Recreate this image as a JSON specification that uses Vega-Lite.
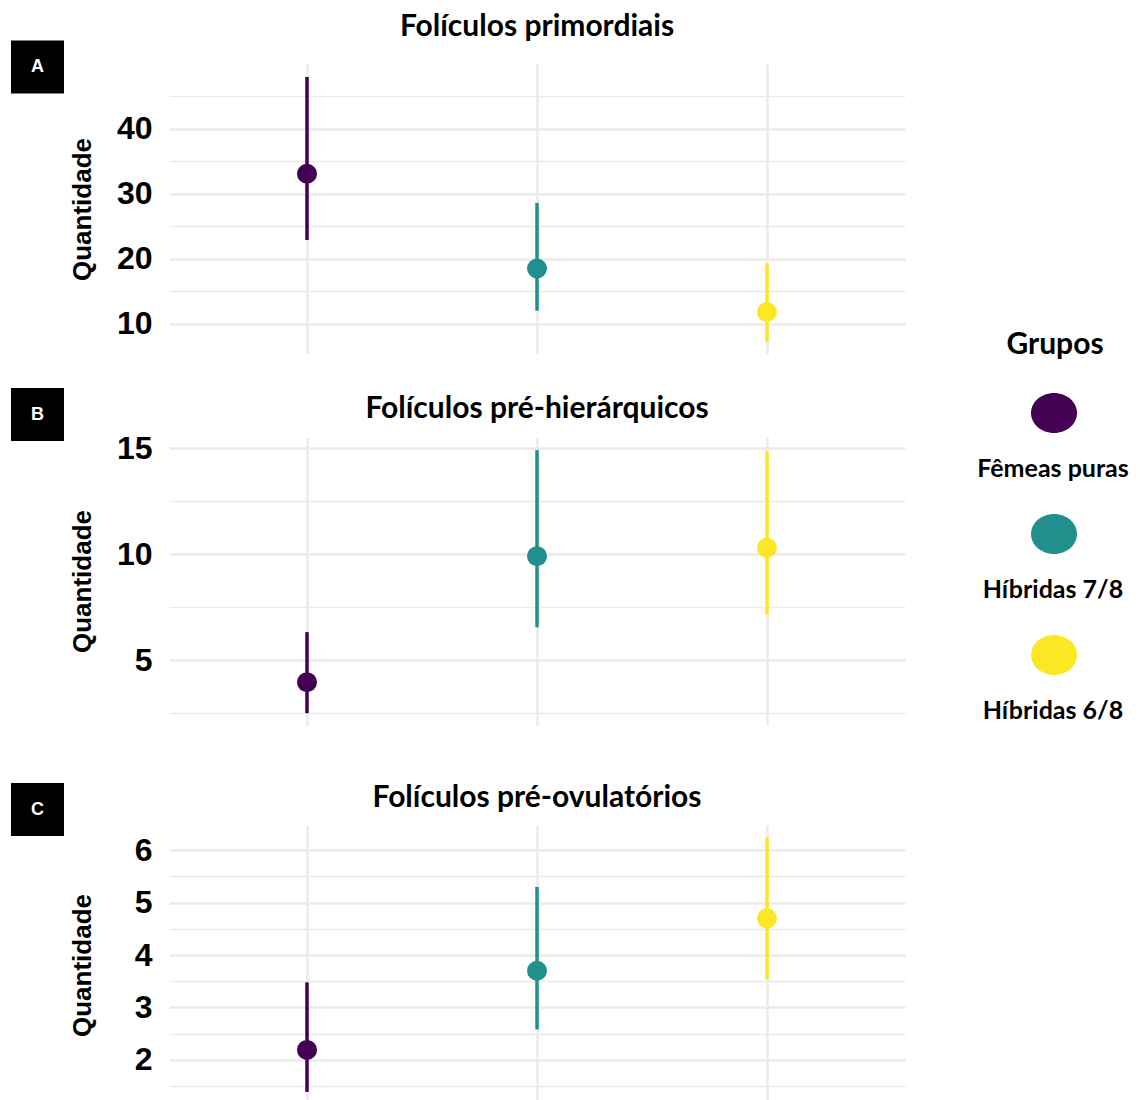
{
  "$schema": "https://vega.github.io/schema/vega-lite/v6.json",
  "padding": {"left": 10, "top": 12, "right": 0, "bottom": 0},
  "background": "white",
  "datasets": {
    "foliculos": [
      {"painel": "A", "grupo": "Fêmeas puras", "media": 33.1, "inf": 22.9, "sup": 48.0},
      {"painel": "A", "grupo": "Híbridas 7/8", "media": 18.5, "inf": 12.0, "sup": 28.6},
      {"painel": "A", "grupo": "Híbridas 6/8", "media": 11.8, "inf": 7.2, "sup": 19.4},
      {"painel": "B", "grupo": "Fêmeas puras", "media": 3.96, "inf": 2.5, "sup": 6.32},
      {"painel": "B", "grupo": "Híbridas 7/8", "media": 9.9, "inf": 6.55, "sup": 14.9},
      {"painel": "B", "grupo": "Híbridas 6/8", "media": 10.3, "inf": 7.15, "sup": 14.85},
      {"painel": "C", "grupo": "Fêmeas puras", "media": 2.19, "inf": 1.39, "sup": 3.48},
      {"painel": "C", "grupo": "Híbridas 7/8", "media": 3.7, "inf": 2.58, "sup": 5.3},
      {"painel": "C", "grupo": "Híbridas 6/8", "media": 4.7, "inf": 3.53, "sup": 6.25}
    ]
  },
  "hconcat": [
    {
      "vconcat": [
        {
          "width": 55, "height": 6,
          "data": {"values": [{"painel": "A"}]},
          "layer": [
            {"mark": {"type": "square", "size": 2809, "color": "black", "opacity": 1}, "encoding": {}},
            {"mark": {"type": "text", "color": "white", "font": "Liberation Sans", "fontWeight": "bold", "fontSize": 18}, "encoding": {"text": {"field": "painel"}}}
          ]
        },
        {
          "vconcat": [
            {
              "width": 55, "height": 53,
              "data": {"values": [{"painel": "B"}]},
              "layer": [
                {"mark": {"type": "square", "size": 2809, "color": "black", "opacity": 1}, "encoding": {}},
                {"mark": {"type": "text", "color": "white", "font": "Liberation Sans", "fontWeight": "bold", "fontSize": 18}, "encoding": {"text": {"field": "painel"}}}
              ]
            },
            {
              "width": 55, "height": 53,
              "data": {"values": [{"painel": "C"}]},
              "layer": [
                {"mark": {"type": "square", "size": 2809, "color": "black", "opacity": 1}, "encoding": {}},
                {"mark": {"type": "text", "color": "white", "font": "Liberation Sans", "fontWeight": "bold", "fontSize": 18}, "encoding": {"text": {"field": "painel"}}}
              ]
            }
          ],
          "spacing": 342
        }
      ],
      "spacing": 294
    },
    {
      "vconcat": [
        {
          "vconcat": [
            {
              "width": 736, "height": 290,
              "title": {"text": "Folículos primordiais", "offset": 22},
              "data": {"name": "foliculos"},
              "transform": [{"filter": "datum.painel === 'A'"}],
              "encoding": {
                "x": {"field": "grupo", "type": "nominal", "sort": ["Fêmeas puras", "Híbridas 7/8", "Híbridas 6/8"], "scale": {"type": "point", "padding": 0.6}, "axis": {"grid": true, "labels": false, "ticks": false, "domain": false, "title": null, "gridColor": "#ebebeb", "gridWidth": 2.6, "minExtent": 0, "maxExtent": 0}},
                "color": {
                  "field": "grupo", "type": "nominal",
                  "scale": {"domain": ["Fêmeas puras", "Híbridas 7/8", "Híbridas 6/8"], "range": ["#440154", "#21908c", "#fde725"]},
                  "legend": {
                    "title": "Grupos",
                    "orient": "none", "legendX": 996, "legendY": 266,
                    "titleFont": "Lato", "titleFontSize": 30, "titleFontWeight": "bold", "titleColor": "black",
                    "titleAnchor": "start", "titleAlign": "center", "titlePadding": 30,
                    "symbolType": "M-1,0A1,0.87,0,1,1,1,0A1,0.87,0,1,1,-1,0Z",
                    "symbolSize": 2116, "symbolStrokeWidth": 0, "symbolOpacity": 1,
                    "labelFont": "Lato", "labelFontSize": 25, "labelFontWeight": "bold", "labelColor": "black", "labelLimit": 400, "labelOffset": 0,
                    "rowPadding": 29,
                    "encode": {
                      "title": {"update": {"dx": {"value": 24}}},
                      "labels": {"update": {"dx": {"value": -24}, "dy": {"value": 56}, "align": {"value": "center"}}},
                      "symbols": {"update": {"strokeWidth": {"value": 0}, "opacity": {"value": 1}}}
                    }
                  }
                }
              },
              "layer": [
                {
                  "mark": {"type": "rule", "strokeWidth": 3.5},
                  "encoding": {
                    "y": {"field": "inf", "type": "quantitative", "title": "Quantidade", "scale": {"domain": [5.34, 50], "nice": false, "zero": false},
                      "axis": {"values": [10, 15, 20, 25, 30, 35, 40, 45], "tickCount": 30, "labelExpr": "datum.value % 10 === 0 ? format(datum.value, 'd') : ''",
                        "gridWidth": {"condition": {"test": "datum.value % 10 === 0", "value": 2.6}, "value": 1.4}}},
                    "y2": {"field": "sup"}
                  }
                },
                {
                  "mark": {"type": "point", "filled": true, "size": 400, "opacity": 1},
                  "encoding": {"y": {"field": "media", "type": "quantitative", "title": "Quantidade"}}
                }
              ]
            },
            {
              "width": 736, "height": 288,
              "title": {"text": "Folículos pré-hierárquicos", "offset": 8},
              "data": {"name": "foliculos"},
              "transform": [{"filter": "datum.painel === 'B'"}],
              "encoding": {
                "x": {"field": "grupo", "type": "nominal", "sort": ["Fêmeas puras", "Híbridas 7/8", "Híbridas 6/8"], "scale": {"type": "point", "padding": 0.6}, "axis": {"grid": true, "labels": false, "ticks": false, "domain": false, "title": null, "gridColor": "#ebebeb", "gridWidth": 2.6, "minExtent": 0, "maxExtent": 0}},
                "color": {"field": "grupo", "type": "nominal", "scale": {"domain": ["Fêmeas puras", "Híbridas 7/8", "Híbridas 6/8"], "range": ["#440154", "#21908c", "#fde725"]}}
              },
              "layer": [
                {
                  "mark": {"type": "rule", "strokeWidth": 3.5},
                  "encoding": {
                    "y": {"field": "inf", "type": "quantitative", "title": "Quantidade", "scale": {"domain": [1.94, 15.52], "nice": false, "zero": false},
                      "axis": {"values": [2.5, 5, 7.5, 10, 12.5, 15], "tickCount": 30, "labelExpr": "datum.value % 5 === 0 ? format(datum.value, 'd') : ''",
                        "gridWidth": {"condition": {"test": "datum.value % 5 === 0", "value": 2.6}, "value": 1.4}}},
                    "y2": {"field": "sup"}
                  }
                },
                {
                  "mark": {"type": "point", "filled": true, "size": 400, "opacity": 1},
                  "encoding": {"y": {"field": "media", "type": "quantitative", "title": "Quantidade"}}
                }
              ]
            }
          ],
          "spacing": 40
        },
        {
          "width": 736, "height": 280,
          "title": {"text": "Folículos pré-ovulatórios", "offset": 12},
          "data": {"name": "foliculos"},
          "transform": [{"filter": "datum.painel === 'C'"}],
          "encoding": {
            "x": {"field": "grupo", "type": "nominal", "sort": ["Fêmeas puras", "Híbridas 7/8", "Híbridas 6/8"], "scale": {"type": "point", "padding": 0.6}, "axis": {"grid": true, "labels": false, "ticks": false, "domain": false, "title": null, "gridColor": "#ebebeb", "gridWidth": 2.6, "minExtent": 0, "maxExtent": 0}},
            "color": {"field": "grupo", "type": "nominal", "scale": {"domain": ["Fêmeas puras", "Híbridas 7/8", "Híbridas 6/8"], "range": ["#440154", "#21908c", "#fde725"]}}
          },
          "layer": [
            {
              "mark": {"type": "rule", "strokeWidth": 3.5},
              "encoding": {
                "y": {"field": "inf", "type": "quantitative", "title": "Quantidade", "scale": {"domain": [1.14, 6.48], "nice": false, "zero": false},
                  "axis": {"values": [1.5, 2, 2.5, 3, 3.5, 4, 4.5, 5, 5.5, 6], "tickCount": 30, "labelExpr": "datum.value % 1 === 0 ? format(datum.value, 'd') : ''",
                    "gridWidth": {"condition": {"test": "datum.value % 1 === 0", "value": 2.6}, "value": 1.4}}},
                "y2": {"field": "sup"}
              }
            },
            {
              "mark": {"type": "point", "filled": true, "size": 400, "opacity": 1},
              "encoding": {"y": {"field": "media", "type": "quantitative", "title": "Quantidade"}}
            }
          ]
        }
      ],
      "spacing": 53
    }
  ],
  "spacing": 4,
  "config": {
    "view": {"stroke": null},
    "font": "Liberation Sans",
    "title": {"font": "Lato", "fontWeight": "bold", "fontSize": 30, "color": "black", "anchor": "middle"},
    "axisY": {
      "domain": false, "ticks": false, "gridColor": "#ebebeb",
      "labelFont": "Liberation Sans", "labelFontWeight": "bold", "labelFontSize": 32, "labelColor": "black", "labelPadding": 17,
      "labelOverlap": false, "labelBound": false,
      "titleFont": "Liberation Sans", "titleFontSize": 26, "titleFontWeight": "bold", "titleColor": "black", "titlePadding": 4,
      "minExtent": 70, "maxExtent": 70
    }
  }
}
